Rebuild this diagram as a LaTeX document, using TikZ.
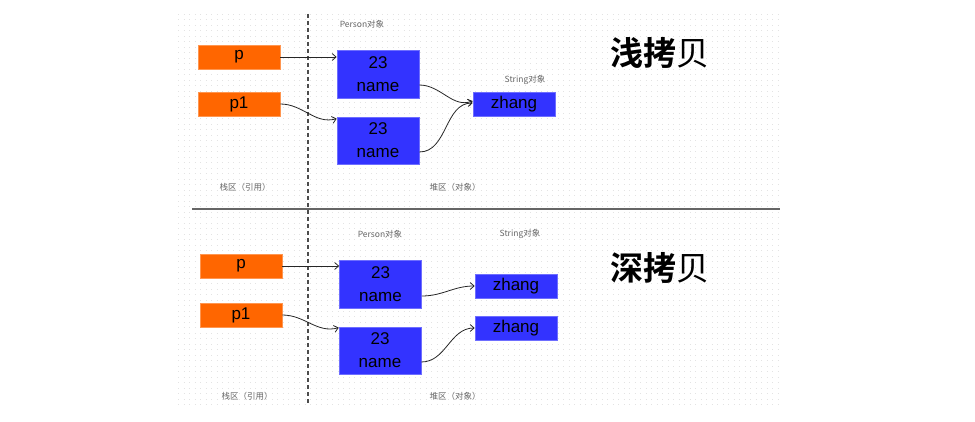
\documentclass[tikz,border=0pt]{standalone}
\usepackage{fontspec}
\setmainfont{Liberation Sans}
\newfontfamily\cjk{Noto Sans CJK SC}[BoldFont={Noto Sans CJK SC Bold}]
\usetikzlibrary{arrows.meta}
\def \w{82}

\begin{document}
\begin{tikzpicture}[x=1pt, y=-1pt,
    >={Straight Barb[length=4pt,width=7pt]},
    refbox/.style={rectangle, fill={rgb,255:red,255;green,102;blue,0}, draw={rgb,255:red,255;green,150;blue,80}, line width=0.6pt, minimum width=\w pt, minimum height=24pt, inner sep=0pt, font=\fontsize{17}{20}\selectfont},
    objbox/.style={rectangle, fill={rgb,255:red,51;green,51;blue,255}, draw={rgb,255:red,110;green,110;blue,255}, line width=0.6pt, minimum width=\w pt, inner sep=0pt, align=center, font=\fontsize{17}{23}\selectfont},
    note/.style={text=black!60, font=\cjk\fontsize{8.5}{10}\selectfont},
    title/.style={font=\cjk\fontsize{33}{36}\selectfont},
    link/.style={->, line width=0.8pt, black!85},
    griddot/.style={black!11, line width=0.7pt, dash pattern=on 0.7pt off 4.8pt}]
    \useasboundingbox (0,0) rectangle (975,422);
    % dotted background
    \foreach \r in {0,...,71}
      \draw[griddot] (178, {14+5.5*\r}) -- (782, {14+5.5*\r});
    \draw[black!70, line width=1.3pt, dash pattern=on 4pt off 3pt] (308,14) -- (308,405);
    \draw[black!60, line width=1.3pt] (192,209) -- (780,209);

    % shallow copy
    \node[title] (T1) at (660,53) {\textbf{浅拷}贝};
    \node[note] (L1) at (362,24) {Person对象};
    \node[note] (L2) at (525,80) {String对象};
    \node[note] (L3) at (245,187) {栈区（引用）};
    \node[note] (L4) at (455,187) {堆区（对象）};
    \node[refbox] (P) at (239,57) {p};
    \node[refbox] (P1) at (239,104) {p1};
    \node[objbox, minimum height=48pt] (A) at (378,74) {23\\name};
    \node[objbox, minimum height=47pt] (B) at (378,140.5) {23\\name};
    \node[objbox, minimum height=24pt] (Z) at (514,104) {zhang};
    \path[link] (P) edge (A.west |- P.east);
    \path[link] (P1) edge[out=0, in=195] ([yshift=-2pt]B.north west);
    \path[link] ([yshift=-11pt]A.east) edge[out=0, in=200] ([yshift=3pt]Z.west);
    \path[link] ([yshift=-11.5pt]B.east) edge[out=0, in=180] ([yshift=1pt]Z.west);

    % deep copy
    \node[title] (T2) at (660,268) {\textbf{深拷}贝};
    \node[note] (M1) at (380,234) {Person对象};
    \node[note] (M2) at (520,234) {String对象};
    \node[note] (M3) at (247,396) {栈区（引用）};
    \node[note] (M4) at (455,396) {堆区（对象）};
    \node[refbox] (Q) at (241,266) {p};
    \node[refbox] (Q1) at (241,315) {p1};
    \node[objbox, minimum height=48pt] (C) at (380.5,284) {23\\name};
    \node[objbox, minimum height=47pt] (D) at (380,350.5) {23\\name};
    \node[objbox, minimum height=24pt] (Y1) at (516,286) {zhang};
    \node[objbox, minimum height=24pt] (Y2) at (516,328) {zhang};
    \path[link] (Q) edge (C.west |- Q.east);
    \path[link] (Q1) edge[out=0, in=195] ([yshift=-1pt]D.north west);
    \path[link] ([yshift=-12pt]C.east) edge[out=0, in=180] (Y1.west);
    \path[link] ([yshift=-11.5pt]D.east) edge[out=0, in=180] (Y2.west);
\end{tikzpicture}
\end{document}
